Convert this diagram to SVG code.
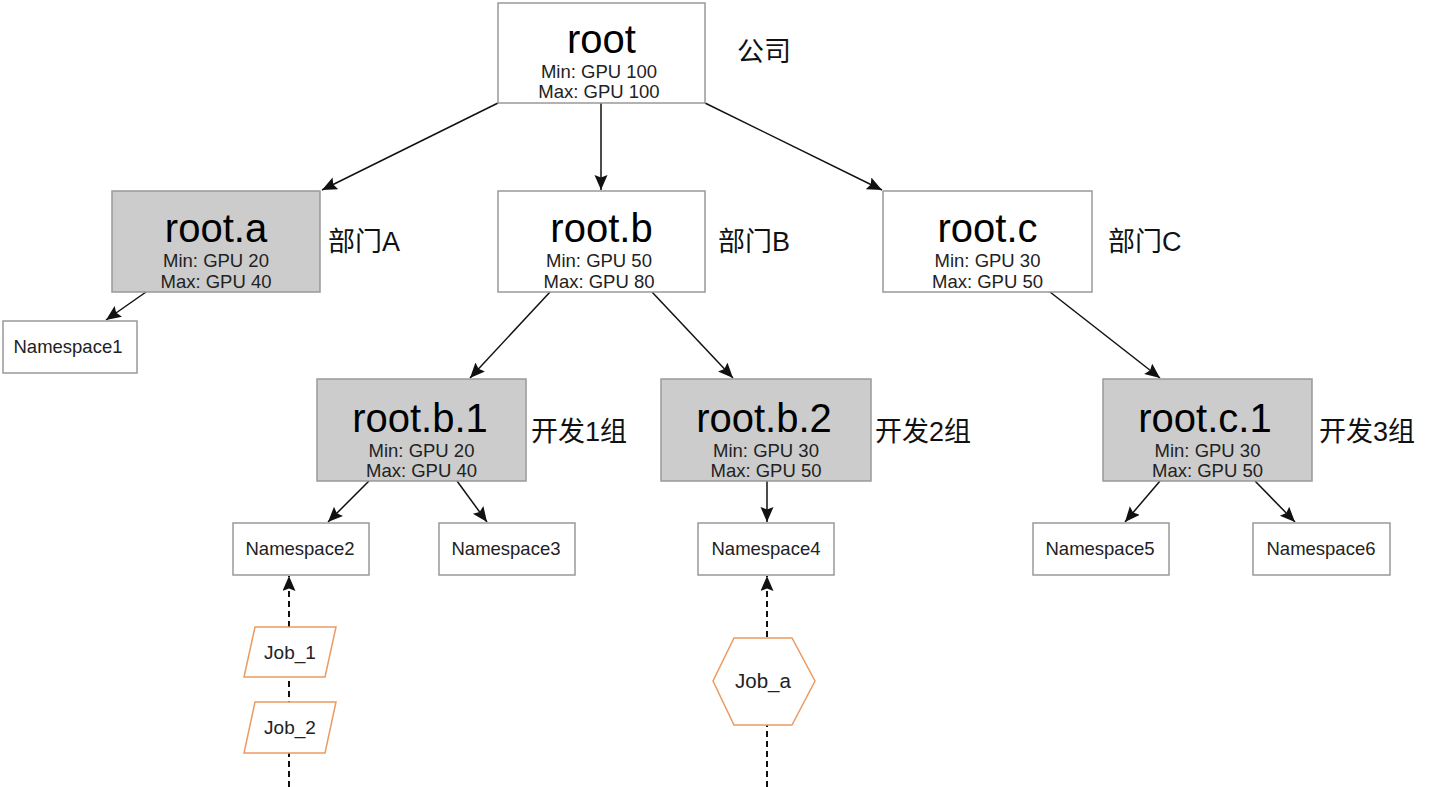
<svg xmlns="http://www.w3.org/2000/svg" width="1431" height="787" viewBox="0 0 1431 787">
<style>
.box{fill:#ffffff;stroke:#999999;stroke-width:1.5}
.grey{fill:#cccccc;stroke:#999999;stroke-width:1.5}
.job{fill:#ffffff;stroke:#eb9a62;stroke-width:1.5}
.title{font-family:"Liberation Sans",Arial,sans-serif;font-size:40px;fill:#000;text-anchor:middle}
.sub{font-family:"Liberation Sans",Arial,sans-serif;font-size:18.5px;fill:#222;text-anchor:middle}
.ns{font-family:"Liberation Sans",Arial,sans-serif;font-size:18.5px;fill:#222;text-anchor:middle}
.jt{font-family:"Liberation Sans",Arial,sans-serif;font-size:19px;fill:#222;text-anchor:middle}
.lbl{font-family:"Liberation Sans","Noto Sans CJK SC",sans-serif;font-size:27px;fill:#111}
.edge{stroke:#111;stroke-width:1.5;fill:none;marker-end:url(#arr)}
.dash{stroke:#111;stroke-width:2;fill:none;stroke-dasharray:6,4;marker-end:url(#arr)}
</style>
<defs>
<marker id="arr" markerUnits="userSpaceOnUse" markerWidth="18" markerHeight="14" refX="15" refY="6.5" orient="auto">
<path d="M0,0 L15,6.5 L0,13 L2.5,6.5 z" fill="#111"/>
</marker>
</defs>
<rect width="1431" height="787" fill="#ffffff"/>
<g id="connectors">
<line class="edge" x1="498" y1="103" x2="322" y2="190"/>
<line class="edge" x1="601" y1="103" x2="601" y2="190"/>
<line class="edge" x1="705" y1="103" x2="882" y2="190"/>
<line class="edge" x1="146" y1="292" x2="106" y2="320"/>
<line class="edge" x1="550" y1="292" x2="470" y2="378"/>
<line class="edge" x1="652" y1="292" x2="733" y2="378"/>
<line class="edge" x1="1050" y1="292" x2="1160" y2="378"/>
<line class="edge" x1="369" y1="481" x2="328" y2="522"/>
<line class="edge" x1="457" y1="481" x2="487" y2="522"/>
<line class="edge" x1="767" y1="481" x2="767" y2="522"/>
<line class="edge" x1="1160" y1="481" x2="1125" y2="522"/>
<line class="edge" x1="1255" y1="481" x2="1295" y2="522"/>
<line class="dash" x1="289" y1="787" x2="289" y2="576"/>
<line class="dash" x1="767" y1="787" x2="767" y2="576"/>
</g>
<g id="root">
<rect class="box" x="498" y="3" width="207" height="100"/>
<text class="title" x="601.5" y="53">root</text>
<text class="sub" x="599" y="78">Min: GPU 100</text>
<text class="sub" x="599" y="98">Max: GPU 100</text>
<text class="lbl" x="737" y="61">公司</text>
</g>
<g id="root-a">
<rect class="grey" x="112" y="191" width="208" height="101"/>
<text class="title" x="216" y="242">root.a</text>
<text class="sub" x="216" y="267">Min: GPU 20</text>
<text class="sub" x="216" y="288">Max: GPU 40</text>
<text class="lbl" x="328" y="251">部门A</text>
</g>
<g id="root-b">
<rect class="box" x="498" y="191" width="207" height="101"/>
<text class="title" x="601.5" y="242">root.b</text>
<text class="sub" x="599" y="267">Min: GPU 50</text>
<text class="sub" x="599" y="288">Max: GPU 80</text>
<text class="lbl" x="718" y="251">部门B</text>
</g>
<g id="root-c">
<rect class="box" x="883" y="191" width="209" height="101"/>
<text class="title" x="987.5" y="242">root.c</text>
<text class="sub" x="987.5" y="267">Min: GPU 30</text>
<text class="sub" x="987.5" y="288">Max: GPU 50</text>
<text class="lbl" x="1108" y="251">部门C</text>
</g>
<g id="namespace1">
<rect class="box" x="3" y="321" width="134" height="52"/>
<text class="ns" x="68" y="353">Namespace1</text>
</g>
<g id="root-b-1">
<rect class="grey" x="317" y="379" width="209" height="102"/>
<text class="title" x="420" y="432">root.b.1</text>
<text class="sub" x="421.5" y="457">Min: GPU 20</text>
<text class="sub" x="421.5" y="477">Max: GPU 40</text>
<text class="lbl" x="531" y="441">开发1组</text>
</g>
<g id="root-b-2">
<rect class="grey" x="661" y="379" width="210" height="102"/>
<text class="title" x="764" y="432">root.b.2</text>
<text class="sub" x="766" y="457">Min: GPU 30</text>
<text class="sub" x="766" y="477">Max: GPU 50</text>
<text class="lbl" x="875" y="441">开发2组</text>
</g>
<g id="root-c-1">
<rect class="grey" x="1103" y="379" width="209" height="102"/>
<text class="title" x="1205" y="432">root.c.1</text>
<text class="sub" x="1207.5" y="457">Min: GPU 30</text>
<text class="sub" x="1207.5" y="477">Max: GPU 50</text>
<text class="lbl" x="1319" y="441">开发3组</text>
</g>
<g id="namespace2">
<rect class="box" x="233" y="523" width="136" height="52"/>
<text class="ns" x="300" y="555">Namespace2</text>
</g>
<g id="namespace3">
<rect class="box" x="439" y="523" width="136" height="52"/>
<text class="ns" x="506" y="555">Namespace3</text>
</g>
<g id="namespace4">
<rect class="box" x="698" y="523" width="136" height="52"/>
<text class="ns" x="766" y="555">Namespace4</text>
</g>
<g id="namespace5">
<rect class="box" x="1033" y="523" width="136" height="52"/>
<text class="ns" x="1100" y="555">Namespace5</text>
</g>
<g id="namespace6">
<rect class="box" x="1253" y="523" width="137" height="52"/>
<text class="ns" x="1321" y="555">Namespace6</text>
</g>
<g id="job-1">
<polygon class="job" points="255,627 336,627 325,677 244,677"/>
<text class="jt" x="290" y="659">Job_1</text>
</g>
<g id="job-2">
<polygon class="job" points="255,702 336,702 325,753 244,753"/>
<text class="jt" x="290" y="734">Job_2</text>
</g>
<g id="job-a">
<polygon class="job" points="734,638 792,638 815,681 792,725 734,725 713,681"/>
<text class="jt" x="763" y="688" style="font-size:20.5px">Job_a</text>
</g>
</svg>
